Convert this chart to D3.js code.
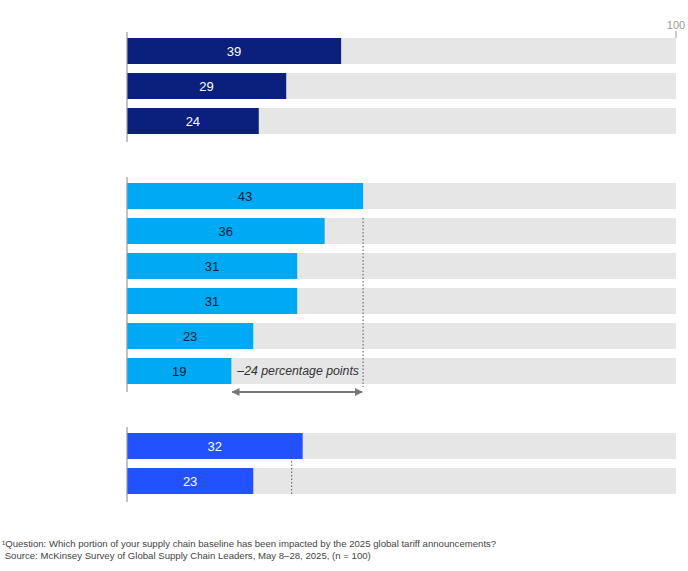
<html>
<head>
  <meta charset="utf-8" />
  <script src="https://cdnjs.cloudflare.com/ajax/libs/d3/7.8.5/d3.min.js"></script>
  <style>
    body { margin: 0; background: #fff; }
    text { font-family: "Liberation Sans", Arial, sans-serif; }
  </style>
</head>
<body>
  <svg></svg>
  <script>

  // values
  var groupA = [39, 29, 24]
  var groupB = [43, 36, 31, 31, 23, 19]
  var groupC = [32, 23]
  var groupRefs = [null, 43, 30]
  var gapLabel = "\u201324 percentage points"
  var maxTick = "100"
  var notes = [
    "\u00b9Question: Which portion of your supply chain baseline has been impacted by the 2025 global tariff announcements?",
    " Source: McKinsey Survey of Global Supply Chain Leaders, May 8\u201328, 2025, (n = 100)"
  ]

  var groups = [
    { values: groupA, fill: "#0b1f7c", ink: "#ffffff" },
    { values: groupB, fill: "#00a9f4", ink: "#051c2c" },
    { values: groupC, fill: "#2251ff", ink: "#ffffff" }
  ]

  var svg = d3.select("svg").attr("width", 688).attr("height", 571)

  var xScale = d3.scaleLinear().domain([0, 100]).range([127, 676])
  // slot position: each group gap is a bit more than a row
  var yScale = d3.scaleLinear().domain([0, 1]).range([38, 73])
  var barH = 26
  var groupGap = 1.143

  var rows = []
  var slot = 0
  groups.forEach((g, gi) => {
    g.start = slot
    g.values.forEach((v, i) => {
      rows.push({ value: v, slot: slot, group: g, gi: gi, i: i })
      slot += 1
    })
    g.end = slot - 1
    slot += groupGap
  })

  // 100 marker on top
  svg.append("line")
    .attr("x1", xScale(100)).attr("x2", xScale(100))
    .attr("y1", 31).attr("y2", 38)
    .attr("stroke", "#999")

  svg.append("text")
    .attr("x", xScale(100)).attr("y", 29)
    .attr("text-anchor", "middle")
    .attr("font-size", 11).attr("fill", "#999")
    .text(maxTick)

  // grey tracks
  svg.selectAll("rect.track").data(rows).enter()
    .append("rect").attr("class", "track")
      .attr("x", xScale(0))
      .attr("y", d => yScale(d.slot))
      .attr("width", xScale(100) - xScale(0))
      .attr("height", barH)
      .attr("fill", "#e6e6e6")

  // value bars
  svg.selectAll("rect.bar").data(rows).enter()
    .append("rect").attr("class", "bar")
      .attr("x", xScale(0))
      .attr("y", d => yScale(d.slot))
      .attr("width", d => xScale(d.value) - xScale(0))
      .attr("height", barH)
      .attr("fill", d => d.group.fill)

  svg.selectAll("text.val").data(rows).enter()
    .append("text").attr("class", "val")
      .attr("x", d => (xScale(0) + xScale(d.value)) / 2)
      .attr("y", d => yScale(d.slot) + barH / 2)
      .attr("dy", "0.36em")
      .attr("text-anchor", "middle")
      .attr("font-size", 13)
      .attr("fill", d => d.group.ink)
      .text(d => d.value)

  // left axis line per group
  groups.forEach(g => {
    svg.append("line")
      .attr("x1", xScale(0)).attr("x2", xScale(0))
      .attr("y1", yScale(g.start) - 6)
      .attr("y2", yScale(g.end) + barH + 8)
      .attr("stroke", "#999").attr("stroke-width", 1.2)
  })

  // reference dotted lines
  groups.forEach((g, gi) => {
    var ref = groupRefs[gi]
    if (ref == null) return
    var top = gi == 1 ? yScale(g.start + 1) : yScale(g.start)
    var bottom = yScale(g.end) + barH + (gi == 1 ? 3 : 0)
    svg.append("line")
      .attr("x1", xScale(ref)).attr("x2", xScale(ref))
      .attr("y1", top).attr("y2", bottom)
      .attr("stroke", "#555").attr("stroke-dasharray", "1.5,2")
  })

  // gap annotation on the last row of group B
  var lastB = groupB[groupB.length - 1]
  var lastRowY = yScale(groups[1].end)
  svg.append("text")
    .attr("x", xScale(lastB) + 6)
    .attr("y", lastRowY + barH / 2)
    .attr("dy", "0.36em")
    .attr("font-size", 12.3).attr("font-style", "italic")
    .attr("fill", "#333")
    .text(gapLabel)

  var defs = svg.append("defs")
  defs.append("marker")
    .attr("id", "head").attr("viewBox", "0 0 10 10")
    .attr("refX", 9).attr("refY", 5)
    .attr("markerWidth", 4).attr("markerHeight", 4)
    .attr("orient", "auto-start-reverse")
    .append("path").attr("d", "M0,0 L10,5 L0,10 z").attr("fill", "#777")

  var arrowY = lastRowY + barH + 8
  svg.append("line")
    .attr("x1", xScale(lastB) + 1).attr("x2", xScale(groupB[0]) - 1)
    .attr("y1", arrowY).attr("y2", arrowY)
    .attr("stroke", "#777").attr("stroke-width", 2)
    .attr("marker-start", "url(#head)").attr("marker-end", "url(#head)")

  // footnotes
  svg.selectAll("text.note").data(notes).enter()
    .append("text").attr("class", "note")
      .attr("x", 2)
      .attr("y", (d, i) => 547 + i * 12)
      .attr("font-size", 9.6)
      .attr("fill", "#444")
      .attr("xml:space", "preserve")
      .style("white-space", "pre")
      .text(d => d)

  </script>
</body>
</html>
